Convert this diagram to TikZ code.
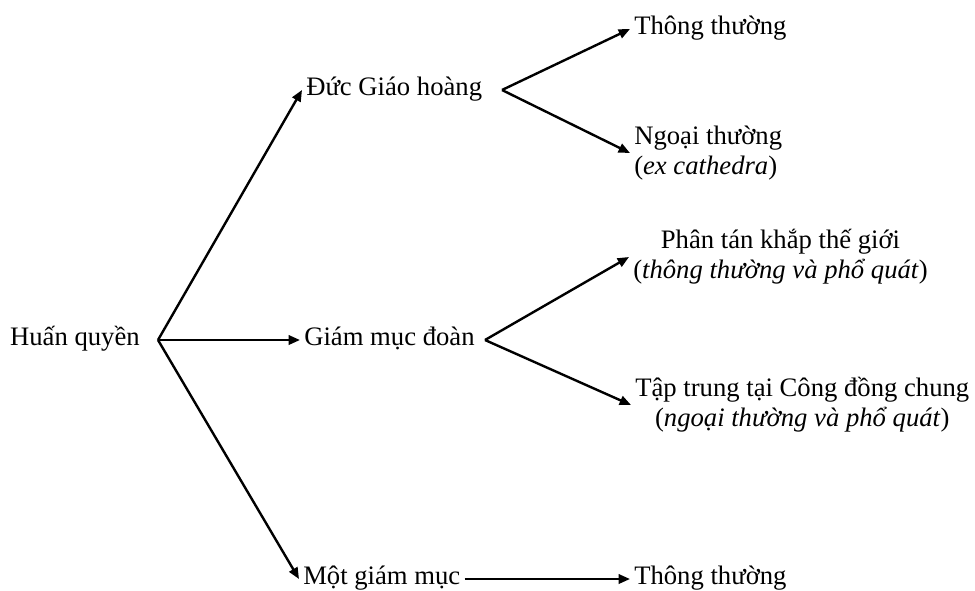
\documentclass[tikz,border=0pt]{standalone}
\usepackage{fontspec}
\setmainfont{Liberation Serif}
\usetikzlibrary{arrows.meta}
\begin{document}
\begin{tikzpicture}[x=0.75pt,y=-0.75pt,
   every node/.style={font=\fontsize{20}{22.5}\selectfont,inner xsep=3pt,inner ysep=0pt},
   muc/.style={anchor=west,text height=14pt,text depth=5.5pt},
   hai/.style={anchor=west,align=left},
   giua/.style={anchor=west,align=center},
   muiten/.style={line width=1.8pt,-{Triangle[length=8.5pt,width=7pt]}}]
   \useasboundingbox (0,0) rectangle (975,590);
   \node[muc,anchor=east,inner xsep=13.5pt] (huan) at (158,340) {Huấn quyền};
   \node[muc] (duc) at (302,90) {Đức Giáo hoàng};
   \node[muc] (giam) at (300,340) {Giám mục đoàn};
   \node[muc] (mot) at (299,579) {Một giám mục};
   \node[muc] (thuong1) at (630,29) {Thông thường};
   \node[hai] (ngoai) at (630,153) {Ngoại thường\\(\textit{ex cathedra})};
   \node[giua] (phan) at (629,257) {Phân tán khắp thế giới\\(\textit{thông thường và phổ quát})};
   \node[giua] (taptrung) at (631,405) {Tập trung tại Công đồng chung\\(\textit{ngoại thường và phổ quát})};
   \node[muc] (thuong2) at (630,579) {Thông thường};
   \coordinate (reduc) at (502,90);
   \coordinate (regiam) at (485,340);
   \draw[muiten] (huan.east) -- (duc.west);
   \draw[muiten] (huan.east) -- (giam.west);
   \draw[muiten] (huan.east) -- (mot.west);
   \draw[muiten] (reduc) -- (thuong1.west);
   \draw[muiten] (reduc) -- (ngoai.west);
   \draw[muiten] (regiam) -- (phan.west);
   \draw[muiten] (regiam) -- (taptrung.west);
   \draw[muiten] (mot.east) -- (thuong2.west);
\end{tikzpicture}
\end{document}
